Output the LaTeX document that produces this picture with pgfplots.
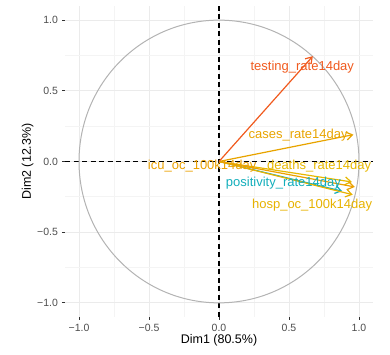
\documentclass[border=0pt]{standalone}
\usepackage{fontspec}
\setmainfont{Liberation Sans}
\usepackage{pgfplots}
\pgfplotsset{compat=1.18}
\usetikzlibrary{arrows.meta}
\definecolor{gridmaj}{HTML}{EBEBEB}
\definecolor{gridmin}{HTML}{F4F4F4}
\definecolor{circ}{HTML}{B3B3B3}
\definecolor{cRed}{HTML}{F05A1E}
\definecolor{cOr}{HTML}{EBA000}
\definecolor{cCases}{HTML}{E8A400}
\definecolor{cGold}{HTML}{E7B800}
\definecolor{cHosp}{HTML}{E7B200}
\definecolor{cTeal}{HTML}{12AEBB}
\definecolor{tick}{HTML}{4D4D4D}
\begin{document}
\begin{tikzpicture}[x=1pt,y=1pt]
\begin{axis}[
  at={(0,0)}, anchor=south west,
  scale only axis, width=308pt, height=311pt,
  xmin=-1.1, xmax=1.1, ymin=-1.1, ymax=1.1,
  axis line style={draw=none},
  xtick={-1,-0.5,0,0.5,1}, ytick={-1,-0.5,0,0.5,1},
  minor xtick={-0.75,-0.25,0.25,0.75}, minor ytick={-0.75,-0.25,0.25,0.75},
  xticklabels={−1.0,−0.5,0.0,0.5,1.0},
  yticklabels={−1.0,−0.5,0.0,0.5,1.0},
  grid=both,
  major grid style={gridmaj, line width=1pt},
  minor grid style={gridmin, line width=0.8pt},
  tick align=outside, tick pos=left,
  major tick length=3pt, minor tick length=0pt,
  tick style={black!80, line width=0.9pt},
  ticklabel style={font=\fontsize{10.5}{12}\selectfont, text=tick},
  xticklabel style={yshift=-0.5pt},
  yticklabel style={xshift=-0.5pt},
  xlabel={Dim1 (80.5\%)}, ylabel={Dim2 (12.3\%)},
  label style={font=\fontsize{12.5}{14}\selectfont},
  xlabel style={yshift=4pt},
  ylabel style={yshift=-3pt},
  clip=false,
]
\draw[black, line width=1.1pt, dash pattern=on 5pt off 3.5pt] (axis cs:-1.1,0) -- (axis cs:1.1,0);
\draw[black, line width=1.1pt, dash pattern=on 5pt off 3.5pt] (axis cs:0,-1.1) -- (axis cs:0,1.1);
\draw[circ, line width=1pt] (axis cs:0,0) ellipse [x radius=1, y radius=1];
\pgfplotsset{every axis plot/.append style={line width=1.2pt, -{Straight Barb[length=6pt, width=8pt]}, mark=none}}
\addplot[cTeal] coordinates {(0,0) (0.88,-0.21)};
\addplot[cGold] coordinates {(0,0) (0.95,-0.145)};
\addplot[cHosp] coordinates {(0,0) (0.955,-0.235)};
\addplot[cOr] coordinates {(0,0) (0.97,-0.18)};
\addplot[cCases] coordinates {(0,0) (0.96,0.19)};
\addplot[cRed] coordinates {(0,0) (0.67,0.745)};
\node[text=cRed, font=\fontsize{13}{14}\selectfont] at (axis cs:0.595,0.665) {testing\_rate14day};
\node[text=cCases, font=\fontsize{13}{14}\selectfont] at (axis cs:0.565,0.185) {cases\_rate14day};
\node[text=cGold, font=\fontsize{13}{14}\selectfont] at (axis cs:0.715,-0.03) {deaths\_rate14day};
\node[text=cOr, font=\fontsize{13}{14}\selectfont] at (axis cs:-0.12,-0.03) {icu\_oc\_100k14day};
\node[text=cTeal, font=\fontsize{13}{14}\selectfont] at (axis cs:0.46,-0.155) {positivity\_rate14day};
\node[text=cHosp, font=\fontsize{13}{14}\selectfont] at (axis cs:0.665,-0.31) {hosp\_oc\_100k14day};
\end{axis}
\path[use as bounding box] (-65,-38) rectangle (325,317);
\end{tikzpicture}
\end{document}
